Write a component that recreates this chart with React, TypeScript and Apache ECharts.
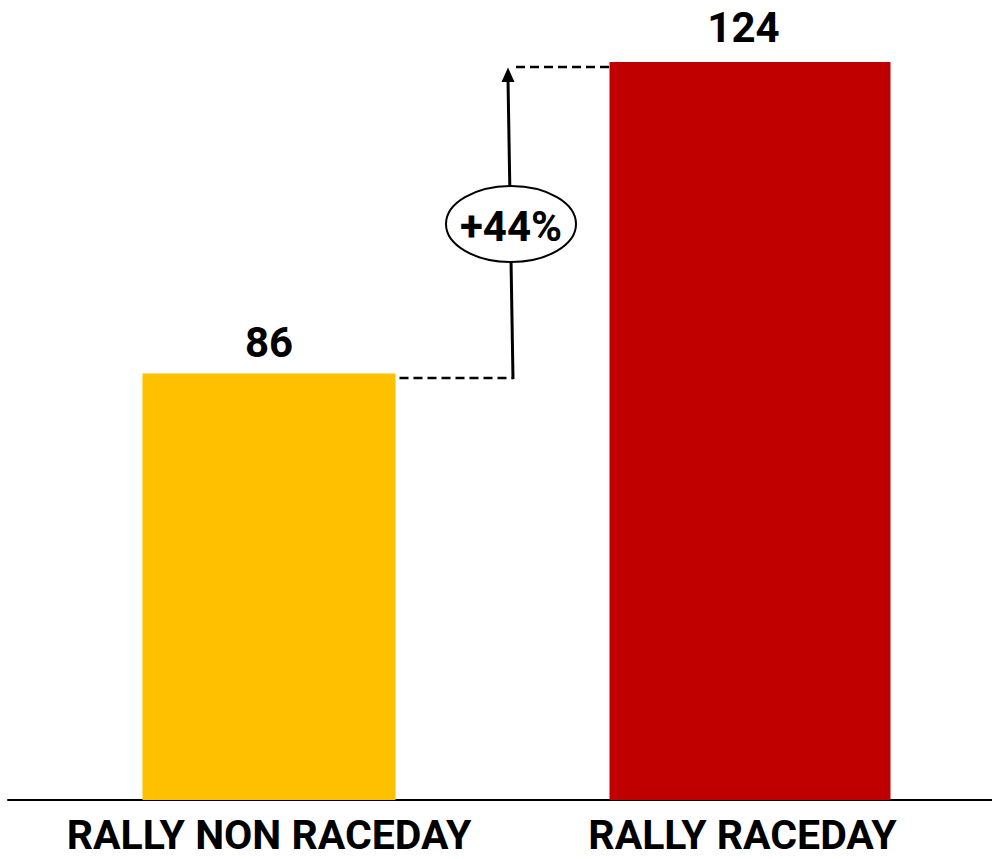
import React, { useEffect, useRef } from "react";
import * as echarts from "echarts";

const categories = ["RALLY NON RACEDAY", "RALLY RACEDAY"];
const values = [86, 124];
const changeLabel = "+44%";
const barColors = ["#FFC000", "#C00000"];
const yMin = 34;
const yMax = 124;

const FONT = "Roboto, 'Liberation Sans', Arial, sans-serif";

export default function App() {
  const ref = useRef<HTMLDivElement>(null);

  useEffect(() => {
    if (!ref.current) return;
    const chart = echarts.init(ref.current, null, { renderer: "svg" });
    const gridDefs = [
      { left: 8, width: 522, top: 62, bottom: 59, containLabel: false, outerBoundsMode: "none" },
      { left: 508, width: 484, top: 62, bottom: 59, containLabel: false, outerBoundsMode: "none" },
    ];
    const barWidths = [253, 281];
    const labelPad = [
      [0, 0, 0, 0],
      [0, 15, 0, 0],
    ];
    const valueLabelOffset = [
      [0, 0],
      [-6.5, 0],
    ];
    const valueLabelDistance = [10, 14];

    chart.setOption({
      animation: false,
      backgroundColor: "#ffffff",
      grid: gridDefs,
      xAxis: categories.map((c, i) => ({
        type: "category",
        gridIndex: i,
        data: [c],
        axisLine: { show: true, lineStyle: { color: "#000", width: 2 } },
        axisTick: { show: false },
        axisLabel: {
          margin: 19,
          formatter: (v: string) => `{s|${v}}`,
          rich: {
            s: {
              fontFamily: FONT,
              fontSize: 41,
              lineHeight: 32,
              fontWeight: "bold",
              color: "#000",
              padding: labelPad[i],
            },
          },
        },
      })),
      yAxis: categories.map((_, i) => ({
        type: "value",
        gridIndex: i,
        min: yMin,
        max: yMax,
        show: false,
        splitLine: { show: false },
      })),
      series: categories.map((c, i) => ({
        type: "bar",
        name: c,
        xAxisIndex: i,
        yAxisIndex: i,
        data: [values[i]],
        barWidth: barWidths[i],
        itemStyle: { color: barColors[i] },
        label: {
          show: true,
          position: "top",
          distance: valueLabelDistance[i],
          offset: valueLabelOffset[i],
          fontFamily: FONT,
          fontSize: 42,
          fontWeight: "bold",
          color: "#000",
        },
      })),
    });

    const p1 = chart.convertToPixel({ seriesIndex: 0 }, [0, values[0]]) as number[];
    const p2 = chart.convertToPixel({ seriesIndex: 1 }, [0, values[1]]) as number[];
    const yLow = p1[1] + 4.5;
    const yHigh = p2[1] + 5;
    const bar1Right = p1[0] + barWidths[0] / 2;
    const bar2Left = p2[0] - barWidths[1] / 2;
    const xBottom = 513;
    const xTop = 508;
    const ellCy = (yLow + yHigh) / 2 + 1.5;
    const ellCx = 511;

    chart.setOption({
      graphic: [
        {
          type: "line",
          shape: { x1: bar1Right + 4, y1: yLow, x2: xBottom, y2: yLow },
          style: { stroke: "#000", lineWidth: 2.5, lineDash: [9, 5] },
        },
        {
          type: "line",
          shape: { x1: xTop + 8, y1: yHigh, x2: bar2Left + 4, y2: yHigh },
          style: { stroke: "#000", lineWidth: 2.5, lineDash: [9, 5] },
        },
        {
          type: "line",
          shape: { x1: xBottom, y1: yLow + 1, x2: xTop, y2: yHigh + 12 },
          style: { stroke: "#000", lineWidth: 3 },
        },
        {
          type: "polygon",
          shape: {
            points: [
              [xTop, yHigh + 0.5],
              [xTop - 6.5, yHigh + 15],
              [xTop + 6.5, yHigh + 15],
            ],
          },
          style: { fill: "#000" },
        },
        {
          type: "ellipse",
          shape: { cx: ellCx, cy: ellCy, rx: 65, ry: 38 },
          style: { fill: "#fff", stroke: "#000", lineWidth: 2 },
        },
        {
          type: "text",
          x: ellCx,
          y: ellCy + 2,
          style: {
            text: changeLabel,
            fontFamily: FONT,
            fontSize: 42,
            fontWeight: "bold",
            fill: "#000",
            align: "center",
            verticalAlign: "middle",
          },
        },
      ],
    });

    return () => chart.dispose();
  }, []);

  return (
    <div
      ref={ref}
      style={{ position: "fixed", left: 0, top: 0, width: 992, height: 859, background: "#fff" }}
    />
  );
}
